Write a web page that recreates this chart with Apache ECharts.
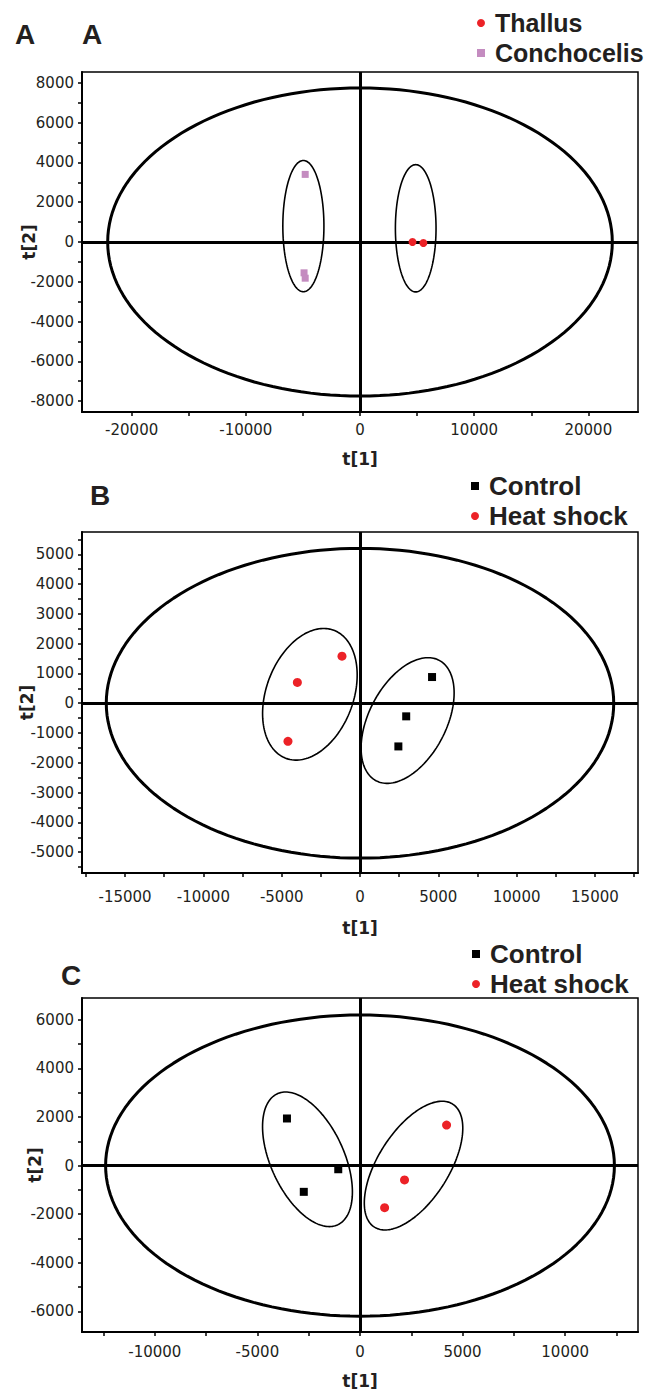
<!DOCTYPE html>
<html><head><meta charset="utf-8">
<script src="https://cdn.jsdelivr.net/npm/echarts@6/dist/echarts.min.js"></script>
<style>html,body{margin:0;padding:0;background:#fff}#c{width:655px;height:1389px}</style>
</head><body><div id="c"></div>
<script>
// ---------- data ----------
// Panel A
const thallusX = [4600, 5550];
const thallusY = [0, -50];
const conchoX = [-4800, -4900, -4800];
const conchoY = [3400, -1550, -1820];
// Panel B
const controlBX = [4600, 2950, 2450];
const controlBY = [880, -440, -1450];
const heatBX = [-1150, -4000, -4600];
const heatBY = [1580, 700, -1280];
// Panel C
const controlCX = [-3560, -1060, -2740];
const controlCY = [1940, -150, -1080];
const heatCX = [4220, 2170, 1200];
const heatCY = [1670, -590, -1730];

// axis ranges
const rangeAX = [-24350, 24350], rangeAY = [-8550, 8550];
const rangeBX = [-17750, 17750], rangeBY = [-5700, 5750];
const rangeCX = [-13550, 13550], rangeCY = [-6850, 6900];

// tick labels / ticks
const ticksAX = [-20000, -15000, -10000, -5000, 0, 5000, 10000, 15000, 20000];
const labelsAX = [-20000, -10000, 0, 10000, 20000];
const ticksAY = [-8000, -7000, -6000, -5000, -4000, -3000, -2000, -1000, 0, 1000, 2000, 3000, 4000, 5000, 6000, 7000, 8000];
const labelsAY = [-8000, -6000, -4000, -2000, 0, 2000, 4000, 6000, 8000];
const ticksBX = [-17500, -15000, -12500, -10000, -7500, -5000, -2500, 0, 2500, 5000, 7500, 10000, 12500, 15000, 17500];
const labelsBX = [-15000, -10000, -5000, 0, 5000, 10000, 15000];
const ticksBY = [-5500, -5000, -4500, -4000, -3500, -3000, -2500, -2000, -1500, -1000, -500, 0, 500, 1000, 1500, 2000, 2500, 3000, 3500, 4000, 4500, 5000, 5500];
const labelsBY = [-5000, -4000, -3000, -2000, -1000, 0, 1000, 2000, 3000, 4000, 5000];
const ticksCX = [-12500, -10000, -7500, -5000, -2500, 0, 2500, 5000, 7500, 10000, 12500];
const labelsCX = [-10000, -5000, 0, 5000, 10000];
const ticksCY = [-6000, -5000, -4000, -3000, -2000, -1000, 0, 1000, 2000, 3000, 4000, 5000, 6000];
const labelsCY = [-6000, -4000, -2000, 0, 2000, 4000, 6000];

// ellipses: [centerX, centerY, halfWidth, halfHeight, phase(deg)]
const ellA = [[0, 0, 22100, 7750, 90], [-4960, 800, 1800, 3300, 90], [4880, 690, 1780, 3200, 90]];
const ellB = [[0, 0, 16200, 5200, 90], [-3200, 300, 3020, 2210, 73], [3040, -580, 2970, 2110, 64]];
const ellC = [[0, 0, 12400, 6200, 90], [-2560, 260, 2190, 2770, 119], [2610, 0, 2400, 2650, 54.5]];

// ---------- build ----------
const zip = (xs, ys) => xs.map((x, i) => [x, ys[i]]);
function ellipse(p) {
  const [cx, cy, rx, ry, d] = p, pts = [];
  for (let i = 0; i <= 160; i++) {
    const t = i / 160 * 2 * Math.PI;
    pts.push([cx + rx * Math.cos(t), cy + ry * Math.cos(t - d * Math.PI / 180)]);
  }
  return pts;
}
const TXT = '#231f20';
const tickFont = {fontFamily: 'DejaVu Sans', fontSize: 15, color: TXT, formatter: v => String(v)};
const nameFont = {fontFamily: 'DejaVu Sans', fontSize: 17, fontWeight: 'bold', color: TXT};

const grids = [
  {left: 82, top: 72, width: 556, height: 340},
  {left: 82, top: 532, width: 556, height: 341},
  {left: 82, top: 998, width: 556, height: 334}
].map(g => Object.assign(g, {show: true, borderColor: '#000', borderWidth: 1.5, backgroundColor: 'transparent', outerBoundsMode: 'none', containLabel: false}));

function xAxis(gi, range, ticks, labels, gap, nameGap) {
  return {type: 'value', gridIndex: gi, min: range[0], max: range[1], position: 'bottom',
    name: 't[1]', nameLocation: 'middle', nameGap: nameGap, nameTextStyle: nameFont, nameMoveOverlap: false,
    splitLine: {show: false},
    axisLine: {onZero: false, lineStyle: {color: '#000', width: 2}},
    axisTick: {customValues: ticks, length: 4, lineStyle: {color: '#000', width: 1.5}},
    axisLabel: Object.assign({customValues: labels, margin: gap, hideOverlap: false}, tickFont)};
}
function yAxis(gi, range, ticks, labels, nameGap) {
  return {type: 'value', gridIndex: gi, min: range[0], max: range[1], position: 'left',
    name: 't[2]', nameLocation: 'middle', nameGap: nameGap, nameRotate: 90, nameTextStyle: nameFont, nameMoveOverlap: false,
    splitLine: {show: false},
    axisLine: {onZero: false, lineStyle: {color: '#000', width: 2}},
    axisTick: {customValues: ticks, length: 4, lineStyle: {color: '#000', width: 1.5}},
    axisLabel: Object.assign({customValues: labels, margin: 8, hideOverlap: false}, tickFont)};
}

const RED = '#ec2227', PINK = '#c48cc0', BLACK = '#000';
const series = [];
function panel(gi, ells, groups) {
  ells.forEach((e, k) => series.push({type: 'line', xAxisIndex: gi, yAxisIndex: gi, data: ellipse(e),
    showSymbol: false, symbol: 'none', silent: true, smooth: false, z: 2,
    lineStyle: {color: '#000', width: k === 0 ? 3 : 1.6},
    markLine: k === 0 ? {silent: true, symbol: 'none', label: {show: false}, animation: false,
      lineStyle: {color: '#000', width: 3, type: 'solid'},
      data: [{yAxis: 0}, {xAxis: 0}]} : undefined}));
  groups.forEach(g => series.push({type: 'scatter', name: g.name, xAxisIndex: gi, yAxisIndex: gi,
    data: zip(g.x, g.y), symbol: g.symbol, symbolSize: g.size, z: 5,
    itemStyle: {color: g.color, opacity: 1}}));
}
panel(0, ellA, [
  {name: 'Thallus', x: thallusX, y: thallusY, symbol: 'circle', size: 8, color: RED},
  {name: 'Conchocelis', x: conchoX, y: conchoY, symbol: 'rect', size: 7, color: PINK}]);
panel(1, ellB, [
  {name: 'Control', x: controlBX, y: controlBY, symbol: 'rect', size: 8, color: BLACK},
  {name: 'Heat shock', x: heatBX, y: heatBY, symbol: 'circle', size: 9, color: RED}]);
panel(2, ellC, [
  {name: 'Control', x: controlCX, y: controlCY, symbol: 'rect', size: 8, color: BLACK},
  {name: 'Heat shock', x: heatCX, y: heatCY, symbol: 'circle', size: 9, color: RED}]);

function legend(left, top, size, items) {
  return {left: left, top: top, orient: 'vertical', itemGap: 0, itemWidth: 8, itemHeight: 8, padding: 0,
    selectedMode: false, data: items,
    textStyle: {fontFamily: 'Liberation Sans', fontSize: size, fontWeight: 'bold', color: TXT, lineHeight: 30, padding: [0, 0, 0, 5]}};
}

const option = {
  animation: false,
  grid: grids,
  xAxis: [xAxis(0, rangeAX, ticksAX, labelsAX, 10, 38), xAxis(1, rangeBX, ticksBX, labelsBX, 16, 46), xAxis(2, rangeCX, ticksCX, labelsCX, 12, 40)],
  yAxis: [yAxis(0, rangeAY, ticksAY, labelsAY, 45), yAxis(1, rangeBY, ticksBY, labelsBY, 47), yAxis(2, rangeCY, ticksCY, labelsCY, 39)],
  legend: [
    legend(477, 8, 25, [{name: 'Thallus', icon: 'circle'}, {name: 'Conchocelis', icon: 'rect', itemStyle: {color: PINK}}]),
    legend(471, 471, 26, [{name: 'Control', icon: 'rect'}, {name: 'Heat shock', icon: 'circle'}]),
    legend(472, 939, 26, [{name: 'Control', icon: 'rect'}, {name: 'Heat shock', icon: 'circle'}])
  ],
  graphic: [
    {type: 'text', left: 15, top: 20, style: {text: 'A', font: 'bold 28px "Liberation Sans"', fill: TXT}},
    {type: 'text', left: 82, top: 20, style: {text: 'A', font: 'bold 28px "Liberation Sans"', fill: TXT}},
    {type: 'text', left: 90, top: 481, style: {text: 'B', font: 'bold 28px "Liberation Sans"', fill: TXT}},
    {type: 'text', left: 61, top: 961, style: {text: 'C', font: 'bold 28px "Liberation Sans"', fill: TXT}}
  ],
  series: series
};
const chart = echarts.init(document.getElementById('c'), null, {renderer: 'svg'});
chart.setOption(option);
</script>
</body></html>
